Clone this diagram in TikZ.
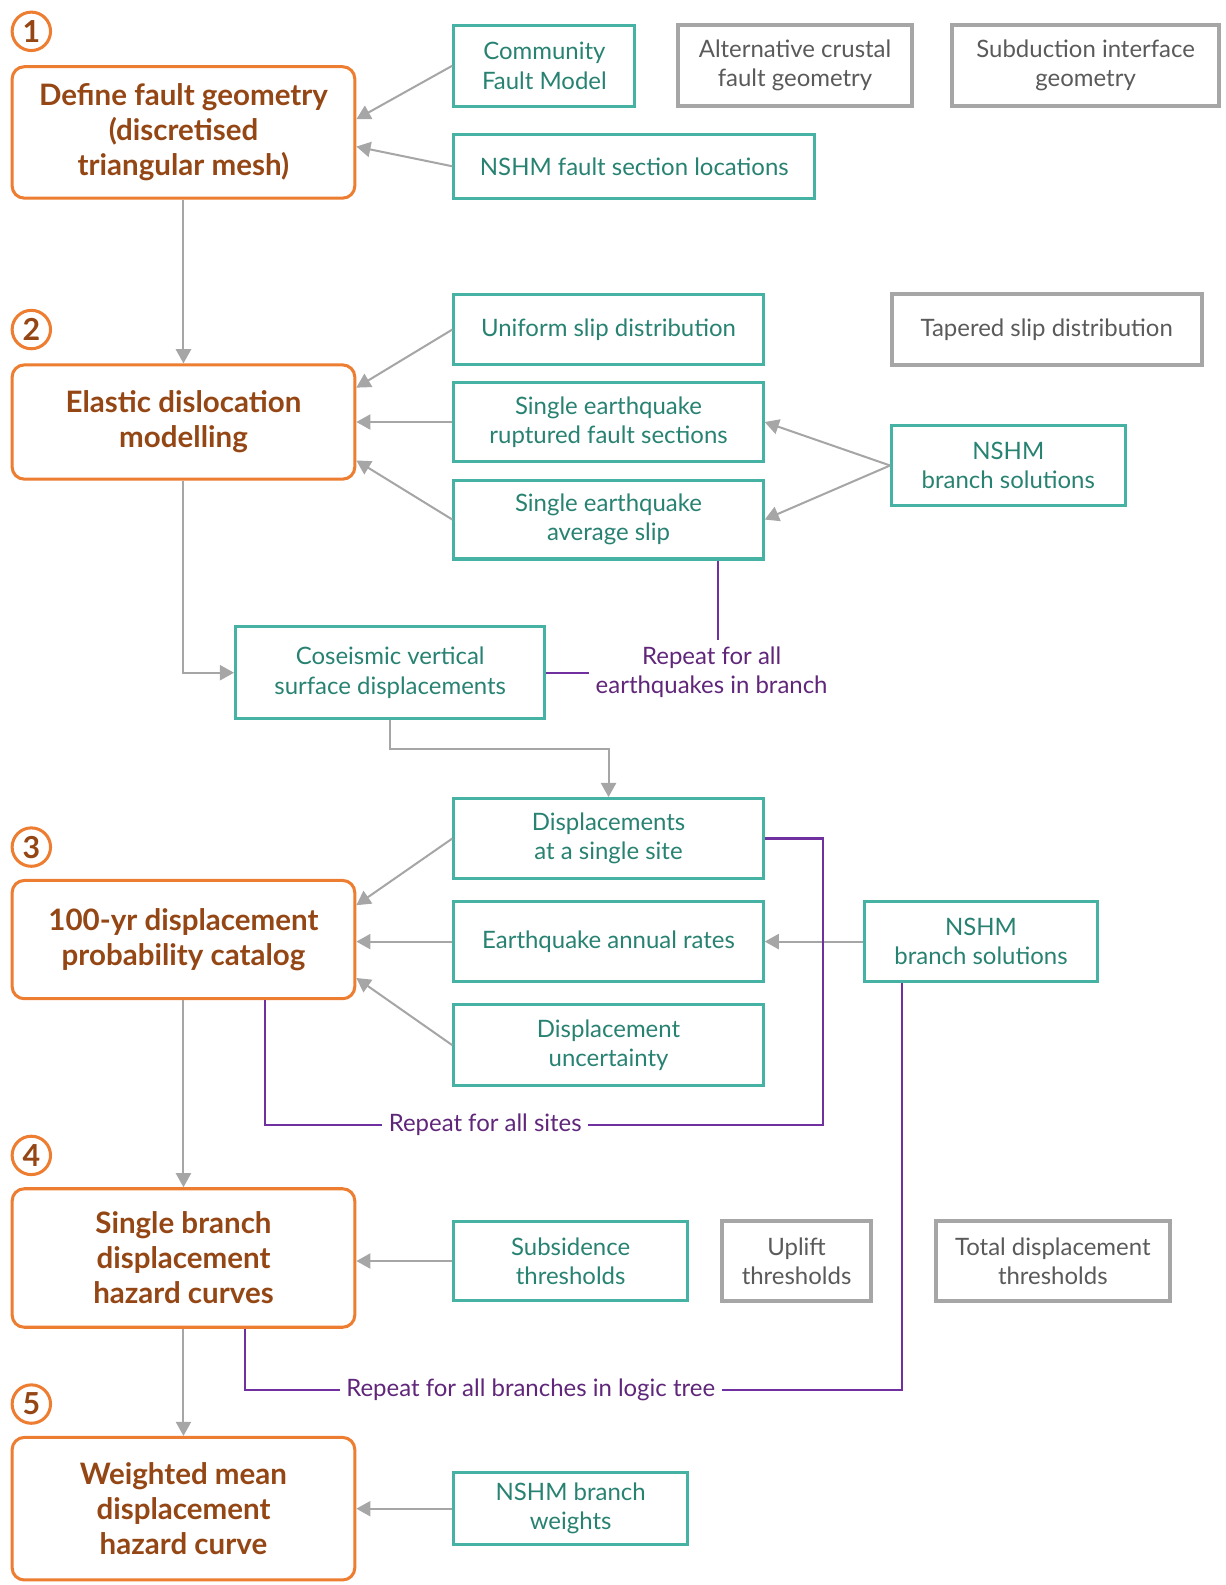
\documentclass[tikz,border=0pt]{standalone}
\usepackage{fontspec}
\setmainfont{Lato}
\usetikzlibrary{arrows.meta}
\definecolor{stageline}{RGB}{237,125,49}
\definecolor{stagetext}{RGB}{148,70,20}
\definecolor{inputline}{RGB}{70,178,164}
\definecolor{inputtext}{RGB}{40,130,114}
\definecolor{altline}{RGB}{166,166,166}
\definecolor{alttext}{RGB}{90,90,90}
\definecolor{flowgray}{RGB}{166,166,166}
\definecolor{loopline}{RGB}{112,48,160}
\definecolor{looptext}{RGB}{96,38,122}

\begin{document}
\begin{tikzpicture}[x=0.5pt,y=-0.5pt,>={Triangle[length=7pt,width=7.5pt]},
					stage node/.style={draw=stageline,line width=1.5pt,rounded corners=6pt,align=center,
						minimum width=169.5pt,text=stagetext,font=\fontsize{14.6}{17.3}\selectfont\bfseries},
					num node/.style={circle,draw=stageline,line width=1.5pt,minimum size=19pt,inner sep=0pt,
						text=stagetext,font=\fontsize{15}{15}\selectfont\bfseries},
					input node/.style={draw=inputline,line width=1.5pt,align=center,
						text=inputtext,font=\fontsize{11.85}{14.5}\selectfont},
					alt node/.style={input node,draw=altline,line width=2pt,text=alttext},
					repeat node/.style={align=center,inner sep=3pt,text=looptext,font=\fontsize{11.85}{14.5}\selectfont},
					flow/.style={->,color=flowgray,line width=1pt},
					repeat line/.style={draw=loopline,line width=1pt}]
					\useasboundingbox (0,0) rectangle (1212,1568);

					\node[num node] (n1) at (31,31) {1};
					\node[num node] (n2) at (31,326) {2};
					\node[num node] (n3) at (31,838) {3};
					\node[num node] (n4) at (31,1143) {4};
					\node[num node] (n5) at (31,1389) {5};

					\node[stage node,minimum height=65pt] (geom) at (181.5,131) {Define fault geometry\\(discretised\\triangular mesh)};
					\node[stage node,minimum height=56.5pt] (elastic) at (181.5,417.5) {Elastic dislocation\\modelling};
					\node[stage node,minimum height=58.5pt] (prob) at (181.5,929.5) {100-yr displacement\\probability catalog};
					\node[stage node,minimum height=68.5pt] (branch) at (181.5,1244.5) {Single branch\\displacement\\hazard curves};
					\node[stage node,minimum height=70.5pt] (wmean) at (181.5,1492.5) {Weighted mean\\displacement\\hazard curve};

					\node[input node,minimum width=89.5pt,minimum height=40pt] (cfm) at (538.5,65) {Community\\Fault Model};
					\node[input node,minimum width=178.5pt,minimum height=31.5pt] (secloc) at (627.5,164.5) {NSHM fault section locations};
					\node[alt node,minimum width=115.5pt,minimum height=40pt] (altcrust) at (786.5,65) {Alternative crustal\\fault geometry};
					\node[alt node,minimum width=132pt,minimum height=40pt] (subd) at (1074,65) {Subduction interface\\geometry};

					\node[input node,minimum width=153pt,minimum height=35pt] (uniform) at (602,326) {Uniform slip distribution};
					\node[alt node,minimum width=153.5pt,minimum height=35pt] (tapered) at (1035.5,326) {Tapered slip distribution};
					\node[input node,minimum width=153pt,minimum height=39.5pt] (rupt) at (602,417.5) {Single earthquake\\ruptured fault sections};
					\node[input node,minimum width=153pt,minimum height=39pt] (avgslip) at (602,514) {Single earthquake\\average slip};
					\node[input node,minimum width=115.5pt,minimum height=39.5pt] (nshmA) at (997.5,460.5) {NSHM\\branch solutions};
					\node[input node,minimum width=153pt,minimum height=45.5pt] (cosei) at (386,665.5) {Coseismic vertical\\surface displacements};
					\node[repeat node] (rep1) at (704,665) {Repeat for all\\earthquakes in branch};

					\node[input node,minimum width=153pt,minimum height=39.5pt] (dispsite) at (602,829.5) {Displacements\\at a single site};
					\node[input node,minimum width=153pt,minimum height=39.5pt] (rates) at (602,931.5) {Earthquake annual rates};
					\node[input node,minimum width=153pt,minimum height=40pt] (uncert) at (602,1034) {Displacement\\uncertainty};
					\node[input node,minimum width=115.5pt,minimum height=39.5pt] (nshmB) at (970.5,931.5) {NSHM\\branch solutions};
					\node[repeat node] (rep2) at (480,1113) {Repeat for all sites};

					\node[input node,minimum width=115.5pt,minimum height=39.5pt] (subs) at (564.5,1247.5) {Subsidence\\thresholds};
					\node[alt node,minimum width=74pt,minimum height=39.5pt] (uplift) at (788,1247.5) {Uplift\\thresholds};
					\node[alt node,minimum width=115.5pt,minimum height=39.5pt] (totdisp) at (1041.5,1247.5) {Total displacement\\thresholds};
					\node[repeat node] (rep3) at (525,1375) {Repeat for all branches in logic tree};
					\node[input node,minimum width=115.5pt,minimum height=35.5pt] (weights) at (564.5,1492.5) {NSHM branch\\weights};

					\path[every edge/.style={draw,flow}]
					(cfm.west) edge ([yshift=6.5pt]geom.east)
					(secloc.west) edge ([yshift=-7pt]geom.east)
					(geom.south) edge (elastic.north)
					(uniform.west) edge ([yshift=17pt]elastic.east)
					(rupt.west) edge (rupt.west -| elastic.east)
					(avgslip.west) edge ([yshift=-19pt]elastic.east)
					(nshmA.west) edge (rupt.east)
					(nshmA.west) edge (avgslip.east)
					(dispsite.west) edge ([yshift=17pt]prob.east)
					(rates.west) edge (rates.west -| prob.east)
					(uncert.west) edge ([yshift=-19pt]prob.east)
					(nshmB.west) edge (rates.east)
					(prob.south) edge (branch.north)
					(subs.west) edge (subs.west -| branch.east)
					(branch.south) edge (wmean.north)
					(weights.west) edge (wmean.east);
					\draw[flow] (elastic.south) |- (cosei.west);
					\draw[flow] (cosei.south) -- ++(0,28) -| (dispsite.north);

					\coordinate (eqloop) at ([xshift=3pt]rep1.north);
					\draw[repeat line] (eqloop |- avgslip.south) -- (eqloop);
					\draw[repeat line] (cosei.east) -- (cosei.east -| rep1.west);
					\draw[repeat line] ([xshift=40.25pt]prob.south) |- (rep2.west);
					\draw[repeat line] (rep2.east) -| ([xshift=29pt]dispsite.east) -- (dispsite.east);
					\draw[repeat line] ([xshift=30.25pt]branch.south) |- (rep3.west);
					\draw[repeat line] (rep3.east) -| ([xshift=-39.25pt]nshmB.south);
				\end{tikzpicture}
\end{document}
